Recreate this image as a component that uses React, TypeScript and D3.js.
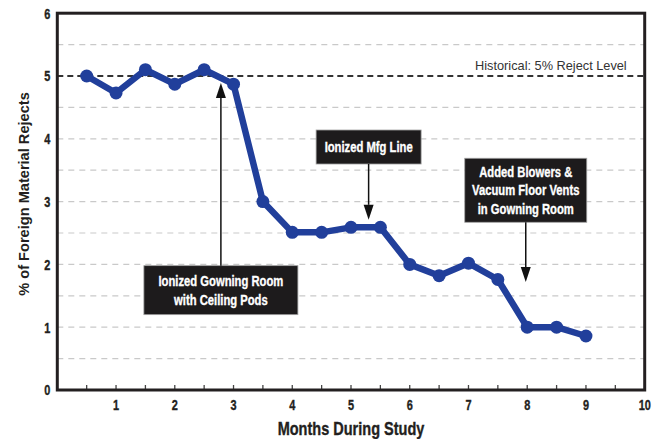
import React, { useEffect, useRef } from 'react';
import * as d3 from 'd3';

const months = [0.5, 1, 1.5, 2, 2.5, 3, 3.5, 4, 4.5, 5, 5.5, 6, 6.5, 7, 7.5, 8, 8.5, 9];
const rejects = [5.0, 4.73, 5.1, 4.87, 5.1, 4.87, 3.0, 2.51, 2.51, 2.59, 2.59, 2.0, 1.82, 2.02, 1.76, 1.0, 1.0, 0.86];
const xTicks = [1, 2, 3, 4, 5, 6, 7, 8, 9, 10];
const yTicks = [0, 1, 2, 3, 4, 5, 6];
const historicalLevel = 5;
const historicalLabel = 'Historical: 5% Reject Level';

// callouts: month of arrow / box centre, value of box top, value of arrow tip
const notes = [
  { month: 2.785, top: 1.98, tip: 4.89, w: 154, h: 49, lines: ['Ionized Gowning Room', 'with Ceiling Pods'] },
  { month: 5.3, top: 4.14, tip: 2.71, w: 105, h: 34, lines: ['Ionized Mfg Line'] },
  { month: 7.975, top: 3.69, tip: 1.72, w: 122, h: 64, lines: ['Added Blowers &', 'Vacuum Floor Vents', 'in Gowning Room'] },
];

const FONT = '"Liberation Sans", Arial, Helvetica, sans-serif';
const BLUE = '#213f9b';
const INK = '#231f20';

// condensed text: draw with a horizontal squeeze
const addText = (parent: any, x: number, y: number, str: any, size: number, sx: number, anchor = 'middle', weight = 'bold', fill = INK) => {
  const t = parent.append('text')
    .attr('transform', `translate(${x},${y}) scale(${sx},1)`)
    .attr('text-anchor', anchor)
    .attr('font-family', FONT)
    .attr('font-weight', weight)
    .attr('font-size', size)
    .attr('fill', fill)
    .text(str);
  // a hairline of the same colour makes the bold look heavier, like the original
  if (weight === 'bold') t.attr('stroke', fill).attr('stroke-width', 0.35);
  return t;
};

const App = () => {
  const svgRef: any = useRef();

  useEffect(() => {
    const width = 658;
    const height = 439;
    const m = { top: 13.2, right: 13.3, bottom: 49, left: 57.3 };

    const svg = d3.select(svgRef.current);
    svg.selectAll('*').remove();
    svg.attr('width', width).attr('height', height);

    const x = d3.scaleLinear().domain([0, 10]).range([m.left, width - m.right]);
    const y = d3.scaleLinear().domain([0, 6]).range([height - m.bottom, m.top]);

    // light dashed grid at every half unit
    const grid = d3.range(0.5, 6, 0.5).filter((v) => v !== historicalLevel);
    svg.append('g')
      .selectAll('line')
      .data(grid)
      .join('line')
      .attr('x1', x(0))
      .attr('x2', x(10))
      .attr('y1', (d) => y(d))
      .attr('y2', (d) => y(d))
      .attr('stroke', '#c9c9c9')
      .attr('stroke-width', 1.2)
      .attr('stroke-dasharray', '6,5');

    // historical reject level
    svg.append('line')
      .attr('x1', x(0))
      .attr('x2', x(10))
      .attr('y1', y(historicalLevel))
      .attr('y2', y(historicalLevel))
      .attr('stroke', '#333')
      .attr('stroke-width', 2)
      .attr('stroke-dasharray', '6,4');

    addText(svg, x(10) - 18, y(historicalLevel) - 6.5, historicalLabel, 13.3, 0.96, 'end', 'normal', '#333');

    // bottom ticks every half month
    svg.append('g')
      .selectAll('line')
      .data(d3.range(0.5, 10, 0.5))
      .join('line')
      .attr('x1', (d) => x(d))
      .attr('x2', (d) => x(d))
      .attr('y1', y(0))
      .attr('y2', y(0) - 5)
      .attr('stroke', '#444')
      .attr('stroke-width', 1.3);

    // callouts
    const lineH = 18.3;
    notes.forEach((n) => {
      const cx = x(n.month);
      const top = y(n.top);
      const g = svg.append('g');
      g.append('rect')
        .attr('x', cx - n.w / 2)
        .attr('y', top)
        .attr('width', n.w)
        .attr('height', n.h)
        .attr('fill', '#1d1b1c')
        .attr('stroke', '#a0a0a0')
        .attr('stroke-width', 0.8);
      n.lines.forEach((l, i) => {
        const by = top + n.h / 2 - ((n.lines.length - 1) * lineH) / 2 + i * lineH + 5.2;
        addText(g, cx, by, l, 14.5, 0.775, 'middle', 'bold', '#fff');
      });

      const tipY = y(n.tip);
      const up = tipY < top;
      const startY = up ? top : top + n.h;
      const headLen = 15;
      const dir = up ? -1 : 1;
      svg.append('line')
        .attr('x1', cx)
        .attr('x2', cx)
        .attr('y1', startY)
        .attr('y2', tipY - dir * headLen)
        .attr('stroke', '#111')
        .attr('stroke-width', 1.5);
      svg.append('path')
        .attr('d', `M${cx},${tipY} L${cx - 5},${tipY - dir * headLen} L${cx + 5},${tipY - dir * headLen} Z`)
        .attr('fill', '#111');
    });

    // data line
    const line = d3.line<number>()
      .x((_, i) => x(months[i]))
      .y((d) => y(d));

    svg.append('path')
      .datum(rejects)
      .attr('d', line)
      .attr('fill', 'none')
      .attr('stroke', BLUE)
      .attr('stroke-width', 6.5)
      .attr('stroke-linejoin', 'round');

    svg.append('g')
      .selectAll('circle')
      .data(rejects)
      .join('circle')
      .attr('cx', (_, i) => x(months[i]))
      .attr('cy', (d) => y(d))
      .attr('r', 6.5)
      .attr('fill', BLUE);

    // frame
    svg.append('rect')
      .attr('x', x(0))
      .attr('y', y(6))
      .attr('width', x(10) - x(0))
      .attr('height', y(0) - y(6))
      .attr('fill', 'none')
      .attr('stroke', INK)
      .attr('stroke-width', 3);

    // tick labels
    xTicks.forEach((t) => addText(svg, x(t), y(0) + 19.5, t, 14.2, 0.77));
    yTicks.forEach((t) => addText(svg, x(0) - 7, y(t) + 5.3, t, 14.2, 0.77, 'end'));

    // axis titles
    addText(svg, (x(0) + x(10)) / 2, 435, 'Months During Study', 17.8, 0.816);

    svg.append('text')
      .attr('transform', `translate(28.5,194) rotate(-90)`)
      .attr('text-anchor', 'middle')
      .attr('font-family', FONT)
      .attr('font-weight', 'bold')
      .attr('font-size', 14.6)
      .attr('fill', INK)
      .text('% of Foreign Material Rejects');
  }, []);

  return <svg ref={svgRef} style={{ position: 'absolute', left: 0, top: 0 }}></svg>;
};

export default App;
